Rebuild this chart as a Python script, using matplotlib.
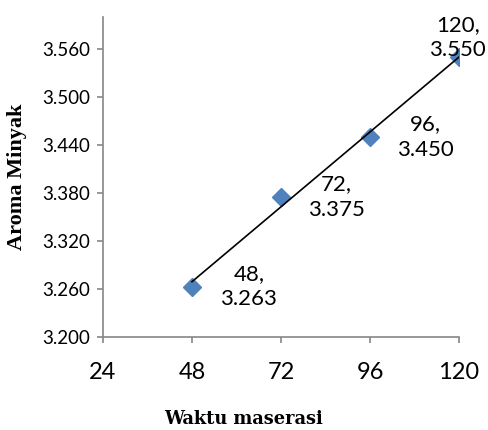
import numpy as np
import matplotlib
matplotlib.use("Agg")
import matplotlib.pyplot as plt

waktu = [48, 72, 96, 120]
aroma = [3.263, 3.375, 3.450, 3.550]
point_labels = ["48,\n3.263", "72,\n3.375", "96,\n3.450", "120,\n3.550"]
xticks = [24, 48, 72, 96, 120]
yticks = [3.200, 3.260, 3.320, 3.380, 3.440, 3.500, 3.560]

fig = plt.figure(figsize=(4.88, 4.30), dpi=100)
ax = fig.add_axes([0.211, 0.2163, 0.9406 - 0.211, 0.9605 - 0.2163])

ax.plot(waktu, aroma, linestyle="none", marker="D", markersize=9,
        color="#4F81BD", zorder=2)

coef = np.polyfit(waktu, aroma, 1)
xs = np.array([waktu[0], waktu[-1]])
ax.plot(xs, np.polyval(coef, xs), color="black", linewidth=1.2, zorder=3)

offsets = [(41, 0), (40, 0), (40, 0), (-1, 14)]
for x, y, lab, off in zip(waktu, aroma, point_labels, offsets):
    ax.annotate(lab, (x, y), xytext=off, textcoords="offset points",
                ha="center", va="center", fontsize=16, family="Lato",
                linespacing=1.35, annotation_clip=False, zorder=4)

ax.set_xlim(24, 120)
ax.set_ylim(3.2, 3.6)
ax.set_xticks(xticks)
ax.set_xticklabels([str(t) for t in xticks], fontsize=17, family="Lato")
ax.set_yticks(yticks)
ax.set_yticklabels([f"{t:.3f}" for t in yticks], fontsize=13.5, family="Lato")

for s in ["top", "right"]:
    ax.spines[s].set_visible(False)
for s in ["left", "bottom"]:
    ax.spines[s].set_color("#868686")
    ax.spines[s].set_linewidth(1.2)
ax.tick_params(axis="both", direction="out", length=4, color="#868686", width=1.2)
ax.tick_params(axis="x", pad=14)
ax.tick_params(axis="y", pad=5)

ax.set_xlabel("Waktu maserasi", fontsize=12.8, fontweight="bold", family="DejaVu Serif")
ax.xaxis.set_label_coords(0.396, -0.228)
ax.set_ylabel("Aroma Minyak", fontsize=16, fontweight="bold", family="Liberation Serif")
ax.yaxis.set_label_coords(-0.212, 0.50)

fig.savefig("out.png", dpi=100)
